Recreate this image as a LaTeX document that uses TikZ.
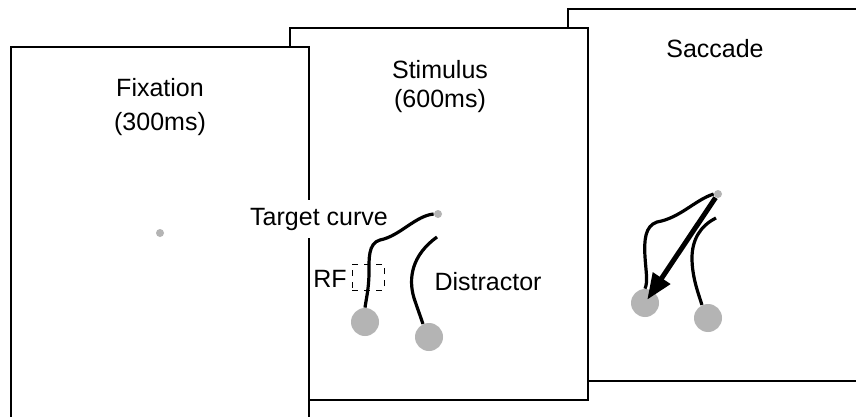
\documentclass[tikz,border=0pt]{standalone}
\usepackage{fontspec}
\setmainfont{Liberation Sans}
\usepackage{tikz}
\usetikzlibrary{arrows.meta,positioning}
\definecolor{dotgray}{RGB}{180,180,180}

\begin{document}
\begin{tikzpicture}[x=0.5pt,y=-0.5pt,
  frame/.style={draw,fill=white,line width=1pt},
  lbl/.style={font=\fontsize{12.5}{15}\selectfont,inner sep=0pt,anchor=base},
  fixdot/.style={circle,fill=dotgray,inner sep=0pt,minimum size=4pt},
  endpt/.style={circle,fill=dotgray,inner sep=0pt,minimum size=14pt},
  curve/.style={line width=1.6pt},
  rfbox/.style={draw,dashed,line width=0.5pt,inner sep=0pt,minimum width=16pt,minimum height=13pt},
  sacc/.style={-{Triangle[length=13pt,width=10pt]},line width=2.5pt,shorten >=2pt}
]
\clip (0,0) rectangle (856,417);

% three screens, back to front
\draw[frame] (568,9) rectangle ++(298,372);
\draw[frame] (290,28) rectangle ++(298,372);
\draw[frame] (11,47) rectangle ++(298,372);

\node[lbl] (fixtxt)   at (160,97)  {Fixation};
\node[lbl] (fixtime)  at (160,131) {(300ms)};
\node[lbl] (stimtxt)  at (440,79)  {Stimulus};
\node[lbl] (stimtime) at (440,107) {(600ms)};
\node[lbl] (sacctxt)  at (715,58)  {Saccade};

\node[fixdot] (fixpt) at (160,233) {};

% stimulus
\node[lbl,fill=white,inner sep=4pt] (tgtlbl) at (319,225) {Target curve};
\node[fixdot] (stimfix) at (438,214) {};
\node[endpt]  (stimtgt) at (365,322) {};
\node[endpt]  (stimdis) at (429,337) {};
\coordinate (stimdis0) at (437,237);
\draw[curve] (stimfix.west) .. controls (415,216) and (400,236) .. (380,240)
  .. controls (368,243) and (369,260) .. (369,272)
  .. controls (369,288) and (366,300) .. (stimtgt.north);
\draw[curve] (stimdis0) .. controls (412,255) and (408,278) .. (414,298)
  .. controls (418,310) and (421,318) .. (stimdis.115);
\node[lbl] (rflbl)  at (330,287) {RF};
\node[rfbox] (rf) at (368,277) {};
\node[lbl] (dislbl) at (488,290) {Distractor};

% saccade
\node[fixdot] (saccfix) at (718,194) {};
\node[endpt]  (sacctgt) at (645,303) {};
\node[endpt]  (saccdis) at (708,318) {};
\coordinate (saccdis0) at (716,218);
\draw[curve] (saccfix.west) .. controls (695,200) and (680,218) .. (657,222)
  .. controls (645,226) and (644,240) .. (645,257)
  .. controls (646,272) and (648,282) .. (sacctgt.north);
\draw[curve] (saccdis0) .. controls (700,226) and (692,240) .. (692,258)
  .. controls (692,278) and (699,295) .. (saccdis.115);
\draw[sacc] (saccfix) -- (sacctgt.center);
\end{tikzpicture}
\end{document}
